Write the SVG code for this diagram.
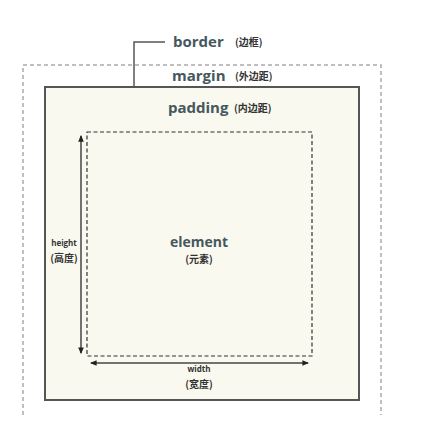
<svg xmlns="http://www.w3.org/2000/svg" width="438" height="433" viewBox="0 0 438 433">
<style>
.t{font-family:"Open Sans","Liberation Sans","Noto Sans CJK SC",sans-serif;fill:#46575e;font-weight:bold}
.s{font-family:"Noto Sans CJK SC","Liberation Sans",sans-serif;fill:#333;font-size:10px;font-weight:bold}
.d{font-family:"Open Sans","Liberation Sans","Noto Sans CJK SC",sans-serif;fill:#333;font-size:8px;font-weight:bold}
</style>
<defs>
<marker id="ah" viewBox="0 0 6 6" refX="5" refY="3" markerWidth="4.5" markerHeight="4.5" orient="auto-start-reverse"><path d="M0,0.5 L6,3 L0,5.5 Z" fill="#222"/></marker>
</defs>
<rect width="438" height="433" fill="#fff"/>
<g id="margin">
<path d="M23,415 V65 H381 V415" fill="none" stroke="#aaa" stroke-width="1.5" stroke-dasharray="4,3"/>
<text class="t" x="172" y="81" font-size="15">margin</text>
<text class="s" x="235" y="80">(外边距)</text>
</g>
<g id="border">
<rect x="45" y="87" width="314" height="313" fill="#f9f9ef" stroke="#555" stroke-width="2"/>
<text class="t" x="173" y="47" font-size="15">border</text>
<text class="s" x="235" y="46">(边框)</text>
</g>
<g id="padding">
<text class="t" x="168" y="113" font-size="15">padding</text>
<text class="s" x="234" y="112">(内边距)</text>
</g>
<g id="element">
<rect x="87" y="132" width="225" height="224" fill="none" stroke="#333" stroke-width="1.2" stroke-dasharray="4,2.5"/>
<text class="t" x="199" y="247" font-size="14" text-anchor="middle">element</text>
<text class="s" x="199" y="263" text-anchor="middle">(元素)</text>
</g>
<g id="connectors">
<path d="M134,87 V42 H165" fill="none" stroke="#555" stroke-width="1.5"/>
<line x1="81" y1="136" x2="81" y2="353" stroke="#444" stroke-width="1.5" marker-start="url(#ah)" marker-end="url(#ah)"/>
<line x1="91" y1="363" x2="308" y2="363" stroke="#444" stroke-width="1.5" marker-start="url(#ah)" marker-end="url(#ah)"/>
</g>
<g id="labels">
<text class="d" x="64" y="246" text-anchor="middle">height</text>
<text class="s" x="64" y="262" text-anchor="middle">(高度)</text>
<text class="d" x="199" y="372" text-anchor="middle">width</text>
<text class="s" x="199" y="388" text-anchor="middle">(宽度)</text>
</g>
</svg>
